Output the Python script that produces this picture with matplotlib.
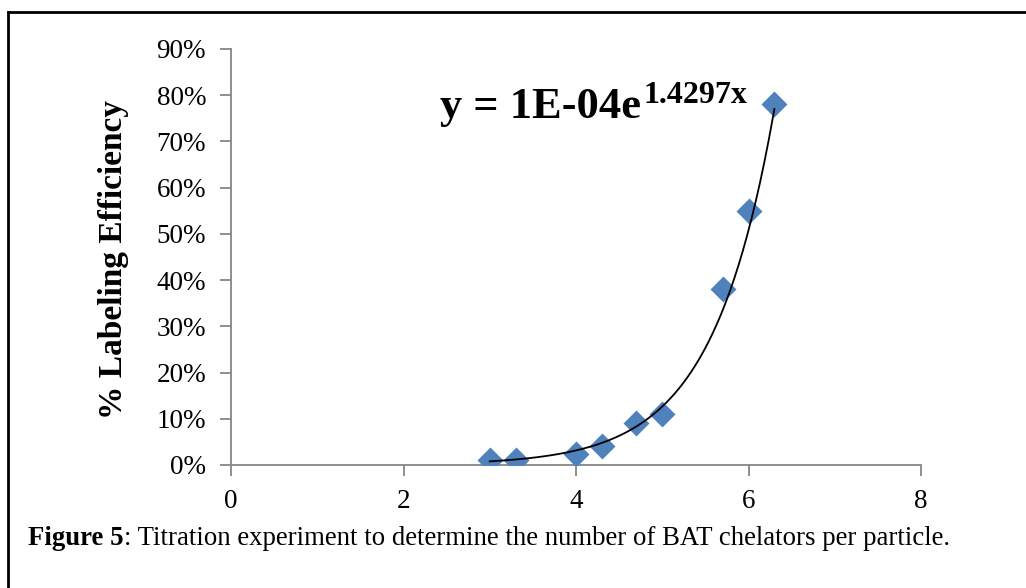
import numpy as np
import matplotlib
matplotlib.use("Agg")
import matplotlib.pyplot as plt
from matplotlib.lines import Line2D
from matplotlib.ticker import PercentFormatter

# Data
chelators = [3.0, 3.3, 4.0, 4.3, 4.7, 5.0, 5.7, 6.0, 6.3]
efficiency = [0.011, 0.011, 0.024, 0.041, 0.091, 0.110, 0.380, 0.550, 0.780]
x_ticks = [0, 2, 4, 6, 8]
y_ticks = [0.0, 0.1, 0.2, 0.3, 0.4, 0.5, 0.6, 0.7, 0.8, 0.9]
equation_base = "y = 1E-04e"
equation_exp = "1.4297x"
y_label = "% Labeling Efficiency"
caption_bold = "Figure 5"
caption_rest = ": Titration experiment to determine the number of BAT chelators per particle."

W, H = 1026, 588
fig = plt.figure(figsize=(W / 100, H / 100), dpi=100)
serif = ["Liberation Serif", "DejaVu Serif"]

ax = fig.add_axes([231 / W, 1 - 465 / H, (921 - 231) / W, (465 - 49) / H])
ax.scatter(chelators, efficiency, marker="D", s=175, color="#4F81BD",
           zorder=3, linewidths=0)

# Exponential trendline (least squares on log values, as Excel does)
b, ln_a = np.polyfit(chelators, np.log(efficiency), 1)
xs = np.linspace(min(chelators), max(chelators), 200)
ax.plot(xs, np.exp(ln_a) * np.exp(b * xs), color="black", lw=1.3, zorder=4)

ax.set_xlim(x_ticks[0], x_ticks[-1])
ax.set_ylim(y_ticks[0], y_ticks[-1])
ax.set_xticks(x_ticks)
ax.set_yticks(y_ticks)
ax.yaxis.set_major_formatter(PercentFormatter(1.0, decimals=0))
for s in ("top", "right"):
    ax.spines[s].set_visible(False)
for s in ("left", "bottom"):
    ax.spines[s].set_color("#868686")
    ax.spines[s].set_linewidth(1.3)
ax.tick_params(axis="both", direction="out", length=8, width=1.3,
               color="#868686", labelsize=19.5)
ax.tick_params(axis="x", pad=9)
ax.tick_params(axis="y", pad=10)
for lab in ax.get_xticklabels() + ax.get_yticklabels():
    lab.set_family(serif)

ax.set_ylabel(y_label, family=serif, fontweight="bold", fontsize=24)
ax.yaxis.set_label_coords(-0.148, 0.494)

# Trendline equation: base text plus raised exponent
eq = fig.text(440 / W, 1 - 118 / H, equation_base, family=serif, fontweight="bold",
              fontsize=32, ha="left", va="baseline")
fig.canvas.draw()
eb = eq.get_window_extent()
fig.text((eb.x1 + 2) / W, 1 - 103 / H, equation_exp, family=serif, fontweight="bold",
         fontsize=23, ha="left", va="baseline")

t = fig.text(28 / W, 1 - 545 / H, caption_bold, family=serif, fontweight="bold",
             fontsize=19.3, ha="left", va="baseline")
fig.canvas.draw()
bb = t.get_window_extent()
fig.text(bb.x1 / W, 1 - 545 / H, caption_rest, family=serif,
         fontsize=19.3, ha="left", va="baseline")

# Outer frame (left and top edges visible)
fig.add_artist(Line2D([8 / W, 8 / W], [0, 1 - 12 / H], transform=fig.transFigure,
                      color="black", lw=2))
fig.add_artist(Line2D([8 / W, 1], [1 - 12 / H, 1 - 12 / H], transform=fig.transFigure,
                      color="black", lw=2))

fig.savefig("out.png", dpi=100)
